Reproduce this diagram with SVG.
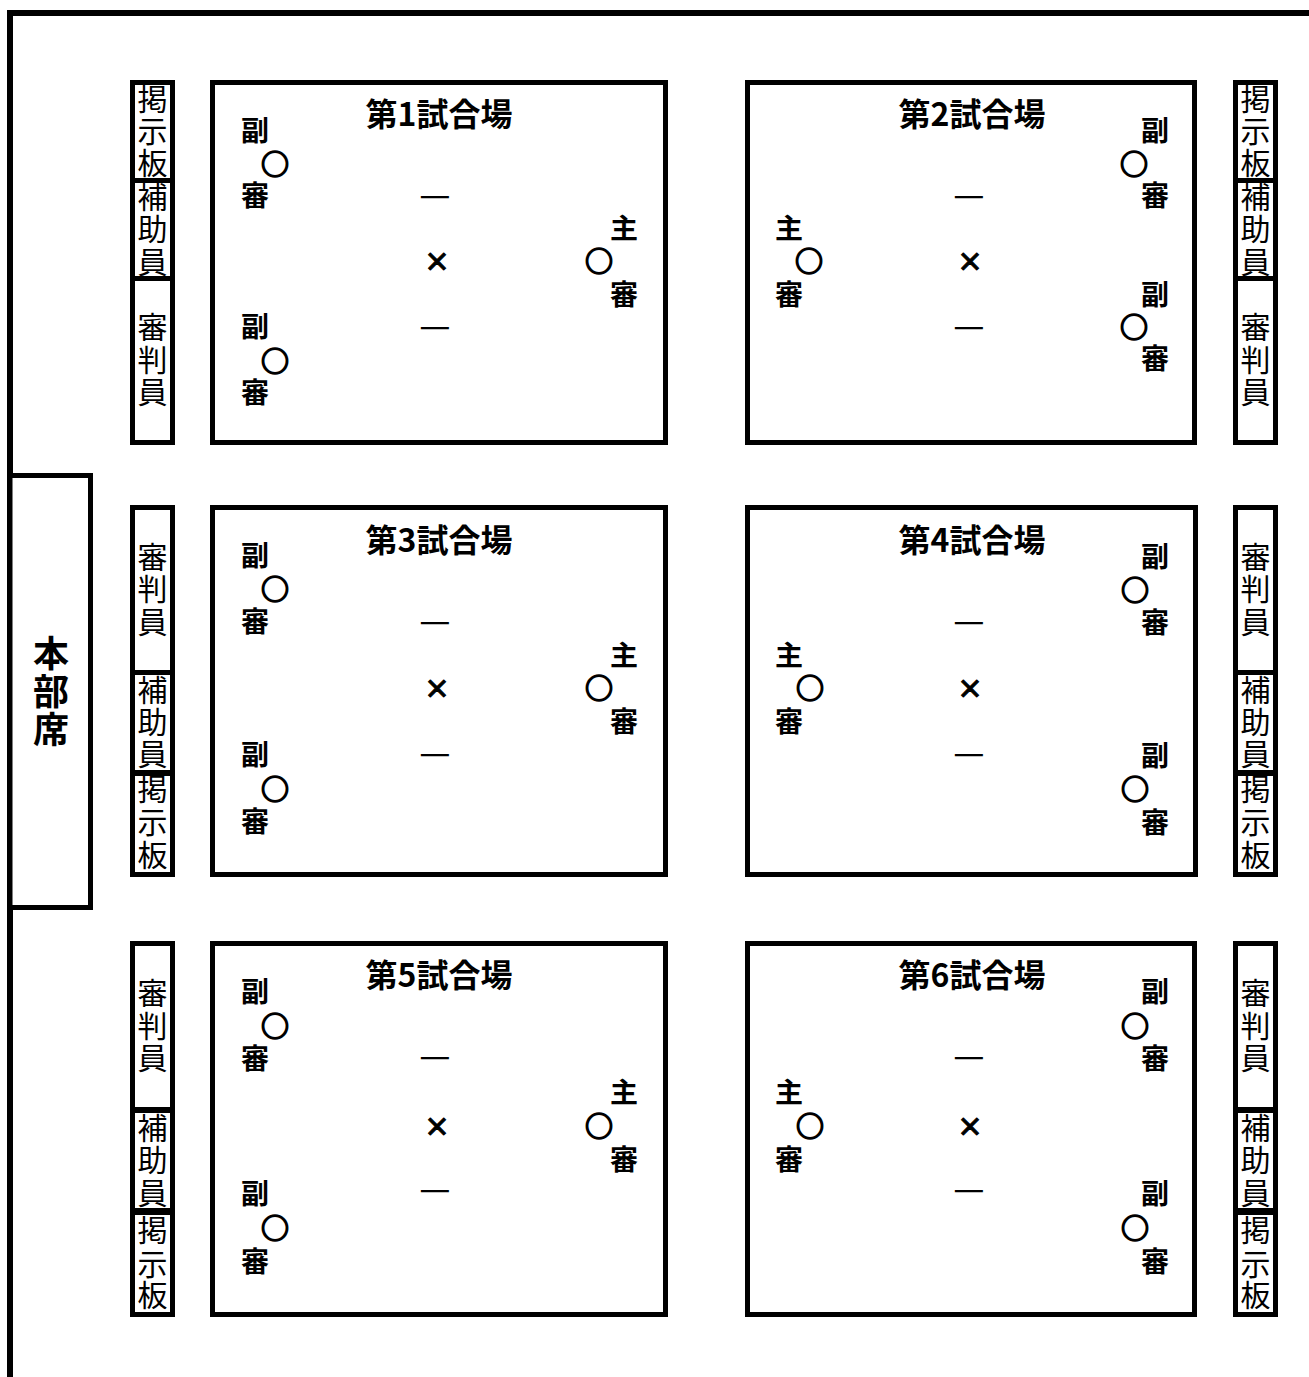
<svg xmlns="http://www.w3.org/2000/svg" width="1309" height="1377" viewBox="0 0 1309 1377">
<style>
.frame{fill:none;stroke:#000;stroke-width:6}
.field{fill:#fff;stroke:#000;stroke-width:5}
.hqbox{fill:#fff;stroke:#000;stroke-width:5}
.sideb{fill:#000}
.sidew{fill:#fff}
text{font-family:"Noto Sans CJK JP","Noto Sans CJK SC",sans-serif;fill:#000;text-anchor:middle}
.title{font-size:32px;font-weight:bold}
.ref{font-size:28px;font-weight:bold}
.mk{font-size:28px;font-weight:bold;stroke:#000;stroke-width:1.6}
.dash{font-size:35px}
.x{font-size:26px;font-weight:bold;stroke:#000;stroke-width:1}
.side{font-size:30px}
.hq{font-size:36px;font-weight:bold}
</style>
<path class="frame" d="M10,1377 V13 H1309"/>
<g id="hq">
<rect class="hqbox" x="10" y="475.5" width="80.5" height="432"/>
<text class="hq"><tspan x="51" y="667">本</tspan><tspan x="51" y="705">部</tspan><tspan x="51" y="743">席</tspan></text>
</g>
<g id="side-l1">
<rect class="sideb" x="130" y="80" width="45" height="365"/>
<rect class="sidew" x="135" y="85" width="35" height="93"/>
<rect class="sidew" x="135" y="183" width="35" height="93"/>
<rect class="sidew" x="135" y="281" width="35" height="159"/>
<text class="side"><tspan x="152.5" y="110">掲</tspan><tspan x="152.5" y="142">示</tspan><tspan x="152.5" y="174">板</tspan></text>
<text class="side"><tspan x="152.5" y="208">補</tspan><tspan x="152.5" y="240">助</tspan><tspan x="152.5" y="273">員</tspan></text>
<text class="side"><tspan x="152.5" y="338">審</tspan><tspan x="152.5" y="371">判</tspan><tspan x="152.5" y="403">員</tspan></text>
</g>
<g id="side-r1">
<rect class="sideb" x="1233" y="80" width="45" height="365"/>
<rect class="sidew" x="1238" y="85" width="35" height="93"/>
<rect class="sidew" x="1238" y="183" width="35" height="93"/>
<rect class="sidew" x="1238" y="281" width="35" height="159"/>
<text class="side"><tspan x="1255.5" y="110">掲</tspan><tspan x="1255.5" y="142">示</tspan><tspan x="1255.5" y="174">板</tspan></text>
<text class="side"><tspan x="1255.5" y="208">補</tspan><tspan x="1255.5" y="240">助</tspan><tspan x="1255.5" y="273">員</tspan></text>
<text class="side"><tspan x="1255.5" y="338">審</tspan><tspan x="1255.5" y="371">判</tspan><tspan x="1255.5" y="403">員</tspan></text>
</g>
<g id="side-l2">
<rect class="sideb" x="130" y="505" width="45" height="372"/>
<rect class="sidew" x="135" y="510" width="35" height="160"/>
<rect class="sidew" x="135" y="675" width="35" height="95"/>
<rect class="sidew" x="135" y="776" width="35" height="96"/>
<text class="side"><tspan x="152.5" y="568">審</tspan><tspan x="152.5" y="600">判</tspan><tspan x="152.5" y="633">員</tspan></text>
<text class="side"><tspan x="152.5" y="701">補</tspan><tspan x="152.5" y="733">助</tspan><tspan x="152.5" y="765">員</tspan></text>
<text class="side"><tspan x="152.5" y="800">掲</tspan><tspan x="152.5" y="833">示</tspan><tspan x="152.5" y="866">板</tspan></text>
</g>
<g id="side-r2">
<rect class="sideb" x="1233" y="505" width="45" height="372"/>
<rect class="sidew" x="1238" y="510" width="35" height="160"/>
<rect class="sidew" x="1238" y="675" width="35" height="95"/>
<rect class="sidew" x="1238" y="776" width="35" height="96"/>
<text class="side"><tspan x="1255.5" y="568">審</tspan><tspan x="1255.5" y="600">判</tspan><tspan x="1255.5" y="633">員</tspan></text>
<text class="side"><tspan x="1255.5" y="701">補</tspan><tspan x="1255.5" y="733">助</tspan><tspan x="1255.5" y="765">員</tspan></text>
<text class="side"><tspan x="1255.5" y="800">掲</tspan><tspan x="1255.5" y="833">示</tspan><tspan x="1255.5" y="866">板</tspan></text>
</g>
<g id="side-l3">
<rect class="sideb" x="130" y="941" width="45" height="376"/>
<rect class="sidew" x="135" y="946" width="35" height="161"/>
<rect class="sidew" x="135" y="1113" width="35" height="95"/>
<rect class="sidew" x="135" y="1215" width="35" height="97"/>
<text class="side"><tspan x="152.5" y="1004">審</tspan><tspan x="152.5" y="1037">判</tspan><tspan x="152.5" y="1069">員</tspan></text>
<text class="side"><tspan x="152.5" y="1139">補</tspan><tspan x="152.5" y="1171">助</tspan><tspan x="152.5" y="1204">員</tspan></text>
<text class="side"><tspan x="152.5" y="1241">掲</tspan><tspan x="152.5" y="1275">示</tspan><tspan x="152.5" y="1306">板</tspan></text>
</g>
<g id="side-r3">
<rect class="sideb" x="1233" y="941" width="45" height="376"/>
<rect class="sidew" x="1238" y="946" width="35" height="161"/>
<rect class="sidew" x="1238" y="1113" width="35" height="95"/>
<rect class="sidew" x="1238" y="1215" width="35" height="97"/>
<text class="side"><tspan x="1255.5" y="1004">審</tspan><tspan x="1255.5" y="1037">判</tspan><tspan x="1255.5" y="1069">員</tspan></text>
<text class="side"><tspan x="1255.5" y="1139">補</tspan><tspan x="1255.5" y="1171">助</tspan><tspan x="1255.5" y="1204">員</tspan></text>
<text class="side"><tspan x="1255.5" y="1241">掲</tspan><tspan x="1255.5" y="1275">示</tspan><tspan x="1255.5" y="1306">板</tspan></text>
</g>
<g id="field1">
<rect class="field" x="212.5" y="82.5" width="453" height="360"/>
<text class="title" x="439" y="126">第1試合場</text>
<text class="ref"><tspan x="255" y="141">副</tspan><tspan class="mk" x="275" y="175">○</tspan><tspan x="255" y="206">審</tspan></text>
<text class="ref"><tspan x="255" y="337">副</tspan><tspan class="mk" x="275" y="372">○</tspan><tspan x="255" y="403">審</tspan></text>
<text class="ref"><tspan x="624" y="239">主</tspan><tspan class="mk" x="599" y="272">○</tspan><tspan x="624" y="305">審</tspan></text>
<text class="dash" x="435" y="207">—</text><text class="x" x="437" y="271">×</text><text class="dash" x="435" y="338">—</text>
</g>
<g id="field2">
<rect class="field" x="747.5" y="82.5" width="447" height="360"/>
<text class="title" x="972" y="126">第2試合場</text>
<text class="ref"><tspan x="1155" y="141">副</tspan><tspan class="mk" x="1134" y="175">○</tspan><tspan x="1155" y="206">審</tspan></text>
<text class="ref"><tspan x="1155" y="305">副</tspan><tspan class="mk" x="1134" y="338">○</tspan><tspan x="1155" y="369">審</tspan></text>
<text class="ref"><tspan x="789" y="239">主</tspan><tspan class="mk" x="809" y="272">○</tspan><tspan x="789" y="305">審</tspan></text>
<text class="dash" x="969" y="207">—</text><text class="x" x="970" y="271">×</text><text class="dash" x="969" y="338">—</text>
</g>
<g id="field3">
<rect class="field" x="212.5" y="507.5" width="453" height="367"/>
<text class="title" x="439" y="552">第3試合場</text>
<text class="ref"><tspan x="255" y="566">副</tspan><tspan class="mk" x="275" y="600">○</tspan><tspan x="255" y="632">審</tspan></text>
<text class="ref"><tspan x="255" y="765">副</tspan><tspan class="mk" x="275" y="800">○</tspan><tspan x="255" y="832">審</tspan></text>
<text class="ref"><tspan x="624" y="666">主</tspan><tspan class="mk" x="599" y="699">○</tspan><tspan x="624" y="732">審</tspan></text>
<text class="dash" x="435" y="633">—</text><text class="x" x="437" y="698">×</text><text class="dash" x="435" y="765">—</text>
</g>
<g id="field4">
<rect class="field" x="747.5" y="507.5" width="448" height="367"/>
<text class="title" x="972" y="552">第4試合場</text>
<text class="ref"><tspan x="1155" y="567">副</tspan><tspan class="mk" x="1135" y="601">○</tspan><tspan x="1155" y="633">審</tspan></text>
<text class="ref"><tspan x="1155" y="766">副</tspan><tspan class="mk" x="1135" y="800">○</tspan><tspan x="1155" y="833">審</tspan></text>
<text class="ref"><tspan x="789" y="666">主</tspan><tspan class="mk" x="810" y="699">○</tspan><tspan x="789" y="732">審</tspan></text>
<text class="dash" x="969" y="633">—</text><text class="x" x="970" y="698">×</text><text class="dash" x="969" y="765">—</text>
</g>
<g id="field5">
<rect class="field" x="212.5" y="943.5" width="453" height="371"/>
<text class="title" x="439" y="987">第5試合場</text>
<text class="ref"><tspan x="255" y="1002">副</tspan><tspan class="mk" x="275" y="1037">○</tspan><tspan x="255" y="1069">審</tspan></text>
<text class="ref"><tspan x="255" y="1204">副</tspan><tspan class="mk" x="275" y="1239">○</tspan><tspan x="255" y="1272">審</tspan></text>
<text class="ref"><tspan x="624" y="1103">主</tspan><tspan class="mk" x="599" y="1137">○</tspan><tspan x="624" y="1170">審</tspan></text>
<text class="dash" x="435" y="1068">—</text><text class="x" x="437" y="1136">×</text><text class="dash" x="435" y="1201">—</text>
</g>
<g id="field6">
<rect class="field" x="747.5" y="943.5" width="447" height="371"/>
<text class="title" x="972" y="987">第6試合場</text>
<text class="ref"><tspan x="1155" y="1002">副</tspan><tspan class="mk" x="1135" y="1037">○</tspan><tspan x="1155" y="1069">審</tspan></text>
<text class="ref"><tspan x="1155" y="1204">副</tspan><tspan class="mk" x="1135" y="1239">○</tspan><tspan x="1155" y="1272">審</tspan></text>
<text class="ref"><tspan x="789" y="1103">主</tspan><tspan class="mk" x="810" y="1137">○</tspan><tspan x="789" y="1170">審</tspan></text>
<text class="dash" x="969" y="1068">—</text><text class="x" x="970" y="1136">×</text><text class="dash" x="969" y="1201">—</text>
</g>
<g id="connectors"/>
</svg>
